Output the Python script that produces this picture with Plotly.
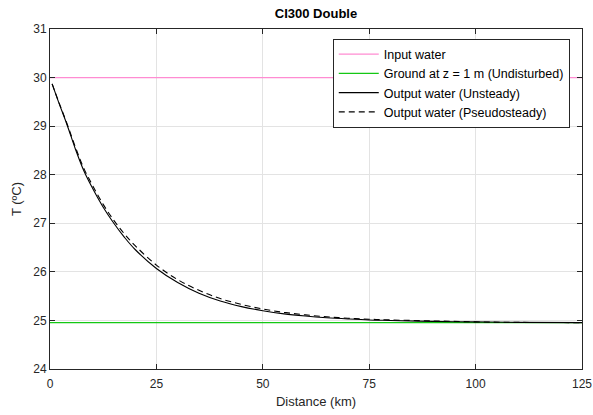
import plotly.graph_objects as go

# Data
distance_km = [0.5, 2, 4, 6, 8, 10, 12.5, 15, 17.5, 20, 25, 30, 35, 40, 45, 50,
               55, 60, 65, 70, 75, 80, 90, 100, 110, 125]
t_unsteady = [29.87, 29.50, 29.03, 28.52, 28.07, 27.72, 27.33, 27.00, 26.71, 26.46,
              26.07, 25.78, 25.56, 25.40, 25.285, 25.20, 25.135, 25.09, 25.055, 25.03,
              25.01, 25.00, 24.98, 24.97, 24.96, 24.955]
t_pseudo = [29.87, 29.51, 29.05, 28.56, 28.12, 27.78, 27.39, 27.06, 26.78, 26.54,
            26.14, 25.84, 25.62, 25.45, 25.33, 25.235, 25.165, 25.115, 25.075, 25.045,
            25.025, 25.01, 24.99, 24.97, 24.96, 24.955]
line_x = [0, 125]
t_input = [30.0, 30.0]
t_ground = [24.955, 24.955]

x_ticks = [0, 25, 50, 75, 100, 125]
y_ticks = [24, 25, 26, 27, 28, 29, 30, 31]

font_family = "Liberation Sans, Arial, Helvetica, sans-serif"

fig = go.Figure()
fig.add_trace(go.Scatter(x=line_x, y=t_input, mode="lines", name="Input water",
                         line=dict(color="rgb(255,140,210)", width=1.3)))
fig.add_trace(go.Scatter(x=line_x, y=t_ground, mode="lines",
                         name="Ground at z = 1 m (Undisturbed)",
                         line=dict(color="rgb(20,200,20)", width=1.1)))
fig.add_trace(go.Scatter(x=distance_km, y=t_unsteady, mode="lines",
                         name="Output water (Unsteady)", line_shape="spline",
                         line=dict(color="black", width=1.1)))
fig.add_trace(go.Scatter(x=distance_km, y=t_pseudo, mode="lines",
                         name="Output water (Pseudosteady)", line_shape="spline",
                         line=dict(color="black", width=1.1, dash="6px,4px")))

axis_common = dict(
    showline=True, linecolor="#262626", linewidth=1, mirror="ticks",
    ticks="inside", ticklen=5, tickcolor="#262626",
    showgrid=True, gridcolor="#e3e3e3", gridwidth=1, zeroline=False,
    automargin=False,
    tickfont=dict(size=12, color="#262626", family=font_family),
)

fig.update_xaxes(range=[0, 125], tickvals=x_ticks, ticktext=[str(v) for v in x_ticks],
                 ticklabelstandoff=4,
                 title=dict(text="Distance (km)", standoff=6,
                            font=dict(size=13, color="#262626", family=font_family)),
                 **axis_common)
fig.update_yaxes(range=[24, 31], tickvals=y_ticks, ticktext=[str(v) for v in y_ticks],
                 title=dict(text="T (ºC)", standoff=8,
                            font=dict(size=13, color="#262626", family=font_family)),
                 **axis_common)

fig.update_layout(
    width=593, height=415,
    margin=dict(l=50, r=11, t=29, b=46, autoexpand=False),
    paper_bgcolor="white", plot_bgcolor="white",
    title=dict(text="<b>CI300 Double</b>", x=(50 + 582) / 2 / 593, xanchor="center",
               y=1 - 13 / 415, yanchor="middle", automargin=False,
               font=dict(size=13, color="black", family=font_family)),
    legend=dict(x=0.977, xanchor="right", y=0.972, yanchor="top",
                bgcolor="white", bordercolor="#262626", borderwidth=1,
                font=dict(size=12.5, color="black", family=font_family),
                tracegroupgap=0, itemwidth=40),
    showlegend=True,
)

fig.write_html(
    "out.html",
    config={"displayModeBar": False},
    post_script="document.body.style.margin='0';document.body.style.overflow='hidden';",
)
